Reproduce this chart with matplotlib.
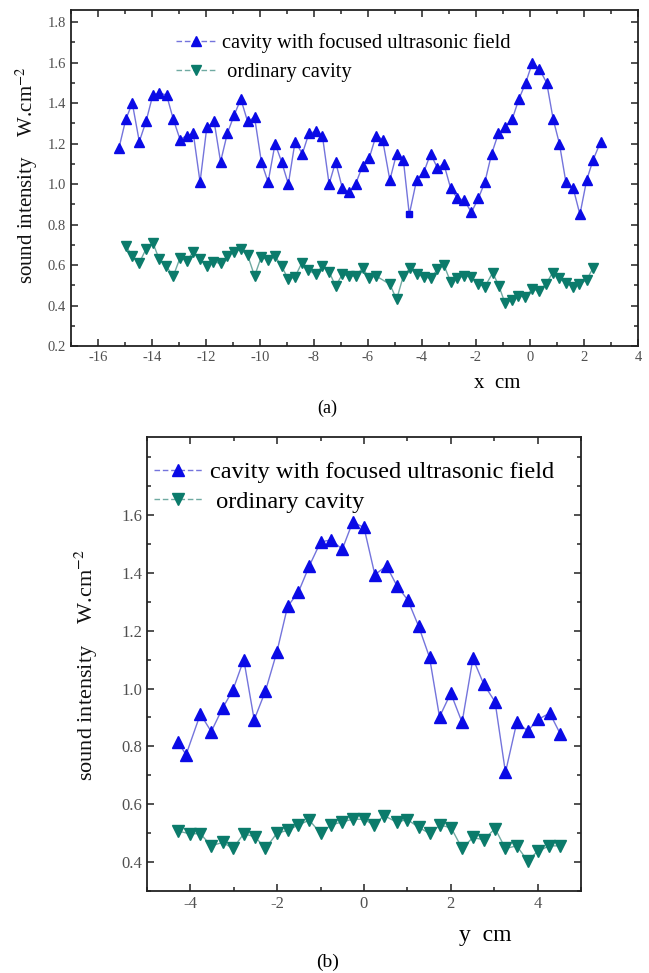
import matplotlib
matplotlib.use("Agg")
import matplotlib.pyplot as plt
from matplotlib.lines import Line2D
from matplotlib.ticker import MultipleLocator

plt.rcParams['font.family'] = ['Liberation Serif', 'DejaVu Serif']
plt.rcParams['mathtext.fontset'] = 'stix'
plt.rcParams['axes.unicode_minus'] = False

# ---- (a) data: scan along x ----
xa_focus = [-15.22, -14.97, -14.73, -14.47, -14.22, -13.97, -13.73, -13.46, -13.21, -12.96,
            -12.71, -12.47, -12.22, -11.97, -11.70, -11.46, -11.21, -10.96, -10.71, -10.46,
            -10.20, -9.95, -9.70, -9.44, -9.20, -8.95, -8.70, -8.43, -8.19, -7.94,
            -7.69, -7.44, -7.20, -6.95, -6.70, -6.46, -6.20, -5.95, -5.70, -5.46,
            -5.19, -4.94, -4.69, -4.47, -4.20, -3.93, -3.68, -3.43, -3.19, -2.94,
            -2.69, -2.43, -2.17, -1.91, -1.67, -1.42, -1.17, -0.93, -0.66, -0.41,
            -0.16, 0.09, 0.34, 0.62, 0.86, 1.09, 1.33, 1.60, 1.85, 2.10,
            2.34, 2.62]
ya_focus = [1.18, 1.32, 1.40, 1.21, 1.31, 1.44, 1.45, 1.44, 1.32, 1.22,
            1.24, 1.25, 1.01, 1.28, 1.31, 1.11, 1.25, 1.34, 1.42, 1.31,
            1.33, 1.11, 1.01, 1.20, 1.11, 1.00, 1.21, 1.15, 1.25, 1.26,
            1.24, 1.00, 1.11, 0.98, 0.96, 1.00, 1.09, 1.13, 1.24, 1.22,
            1.02, 1.15, 1.12, 0.85, 1.02, 1.06, 1.15, 1.08, 1.10, 0.98,
            0.93, 0.92, 0.86, 0.93, 1.01, 1.15, 1.25, 1.28, 1.32, 1.42,
            1.50, 1.60, 1.57, 1.50, 1.32, 1.20, 1.01, 0.98, 0.85, 1.02,
            1.12, 1.21]
square_index_a = 43  # one point drawn with a square symbol in the original

xa_ord = [-14.97, -14.73, -14.48, -14.23, -13.96, -13.73, -13.48, -13.21, -12.96, -12.71,
          -12.47, -12.22, -11.97, -11.73, -11.46, -11.21, -10.96, -10.71, -10.46, -10.20,
          -9.95, -9.70, -9.44, -9.20, -8.95, -8.70, -8.46, -8.21, -7.94, -7.69,
          -7.44, -7.20, -6.95, -6.70, -6.46, -6.20, -5.95, -5.70, -5.19, -4.94,
          -4.69, -4.44, -4.20, -3.93, -3.68, -3.43, -3.19, -2.94, -2.69, -2.43,
          -2.17, -1.91, -1.67, -1.38, -1.15, -0.93, -0.68, -0.43, -0.19, 0.09,
          0.34, 0.59, 0.84, 1.09, 1.33, 1.58, 1.83, 2.10, 2.34]
ya_ord = [0.695, 0.644, 0.608, 0.677, 0.707, 0.628, 0.595, 0.546, 0.636, 0.620,
          0.666, 0.628, 0.595, 0.616, 0.608, 0.644, 0.666, 0.677, 0.649, 0.546,
          0.641, 0.625, 0.644, 0.595, 0.529, 0.542, 0.608, 0.575, 0.554, 0.595,
          0.567, 0.496, 0.554, 0.546, 0.546, 0.584, 0.537, 0.546, 0.505, 0.430,
          0.546, 0.584, 0.556, 0.542, 0.534, 0.579, 0.600, 0.518, 0.537, 0.546,
          0.542, 0.506, 0.493, 0.562, 0.496, 0.414, 0.427, 0.447, 0.443, 0.480,
          0.473, 0.506, 0.562, 0.534, 0.513, 0.493, 0.506, 0.526, 0.587]

# ---- (b) data: scan along y ----
xb_focus = [-4.28, -4.10, -3.77, -3.52, -3.26, -3.02, -2.77, -2.53, -2.27, -2.01,
            -1.76, -1.51, -1.26, -1.00, -0.76, -0.50, -0.26, 0.00, 0.25, 0.52,
            0.76, 1.01, 1.26, 1.51, 1.74, 2.00, 2.26, 2.51, 2.76, 3.02,
            3.26, 3.52, 3.77, 4.02, 4.28, 4.52]
yb_focus = [0.814, 0.771, 0.912, 0.851, 0.932, 0.995, 1.100, 0.892, 0.992, 1.125,
            1.284, 1.334, 1.424, 1.507, 1.514, 1.482, 1.576, 1.557, 1.394, 1.424,
            1.355, 1.306, 1.215, 1.108, 0.902, 0.984, 0.883, 1.104, 1.015, 0.954,
            0.710, 0.883, 0.854, 0.894, 0.915, 0.844]

xb_ord = [-4.28, -4.02, -3.77, -3.52, -3.26, -3.02, -2.77, -2.51, -2.27, -2.01,
          -1.76, -1.51, -1.26, -1.00, -0.76, -0.50, -0.26, 0.00, 0.23, 0.46,
          0.75, 1.00, 1.26, 1.51, 1.76, 2.01, 2.26, 2.51, 2.76, 3.02,
          3.26, 3.52, 3.77, 4.00, 4.27, 4.52]
yb_ord = [0.507, 0.498, 0.498, 0.456, 0.468, 0.447, 0.498, 0.487, 0.447, 0.499,
          0.510, 0.528, 0.545, 0.499, 0.528, 0.539, 0.548, 0.548, 0.527, 0.561,
          0.538, 0.547, 0.520, 0.499, 0.528, 0.518, 0.447, 0.485, 0.477, 0.516,
          0.447, 0.456, 0.404, 0.437, 0.456, 0.456]

label_focus = "cavity with focused ultrasonic field"
label_ord = "ordinary cavity"

BLUE_M = "#0a0ae6"
BLUE_L = "#7474dc"
GREEN_M = "#0b7b6b"
GREEN_L = "#70aaa2"
TICK_C = "#505050"

fig = plt.figure(figsize=(6.49, 9.73), dpi=100)

def style_axes(ax, fs):
    for s in ax.spines.values():
        s.set_linewidth(1.3)
        s.set_color("#222222")
    ax.tick_params(which='both', direction='in', top=True, right=True,
                   labelsize=fs, labelcolor=TICK_C, color="#222222", width=1.1)
    ax.tick_params(which='major', length=5)
    ax.tick_params(which='minor', length=3)

def legend_handles(ms):
    h1 = Line2D([], [], color=BLUE_L, lw=1.0, ls=(0, (4, 2)), marker='^',
                markersize=ms, markerfacecolor=BLUE_M, markeredgecolor=BLUE_M)
    h2 = Line2D([], [], color=GREEN_L, lw=1.0, ls=(0, (4, 2)), marker='v',
                markersize=ms, markerfacecolor=GREEN_M, markeredgecolor=GREEN_M)
    return [h1, h2]

# ---------- (a) ----------
ax1 = fig.add_axes([0.1094, 0.6444, 0.8736, 0.3453])
ax1.plot(xa_focus, ya_focus, color=BLUE_L, lw=1.0, zorder=2)
xs = [x for i, x in enumerate(xa_focus) if i != square_index_a]
ys = [y for i, y in enumerate(ya_focus) if i != square_index_a]
ax1.plot(xs, ys, ls='none', marker='^', ms=7.5, color=BLUE_M, zorder=3)
ax1.plot([xa_focus[square_index_a]], [ya_focus[square_index_a]], ls='none',
         marker='s', ms=5, color=BLUE_M, zorder=3)
ax1.plot(xa_ord, ya_ord, color=GREEN_L, lw=1.0, zorder=2)
ax1.plot(xa_ord, ya_ord, ls='none', marker='v', ms=7.5, color=GREEN_M, zorder=3)
ax1.set_xlim(-17, 4)
ax1.set_ylim(0.2, 1.86)
ax1.xaxis.set_major_locator(MultipleLocator(2))
ax1.xaxis.set_minor_locator(MultipleLocator(1))
ax1.yaxis.set_major_locator(MultipleLocator(0.2))
ax1.yaxis.set_minor_locator(MultipleLocator(0.1))
ax1.yaxis.set_major_formatter(plt.FuncFormatter(lambda v, p: f"{v:.1f}"))
style_axes(ax1, 10.5)
ax1.legend(legend_handles(7), [label_focus, " " + label_ord], loc='upper left',
           bbox_to_anchor=(0.152, 0.985), frameon=False, fontsize=14.8,
           handlelength=2.0, handletextpad=0.25, labelspacing=0.45)
fig.text(27 / 649, 1 - 175 / 973, "sound intensity    W.cm$^{-2}$", rotation=90,
         ha='center', va='center', fontsize=15, color="#111111")
fig.text(497 / 649, 1 - 384 / 973, "x  cm", ha='center', va='center', fontsize=15)
fig.text(327 / 649, 1 - 408 / 973, "(a)", ha='center', va='center', fontsize=13)

# ---------- (b) ----------
ax2 = fig.add_axes([0.2265, 0.0843, 0.6687, 0.4666])
ax2.plot(xb_focus, yb_focus, color=BLUE_L, lw=1.0, zorder=2)
ax2.plot(xb_focus, yb_focus, ls='none', marker='^', ms=8.5, color=BLUE_M, zorder=3)
ax2.plot(xb_ord, yb_ord, color=GREEN_L, lw=1.0, zorder=2)
ax2.plot(xb_ord, yb_ord, ls='none', marker='v', ms=8.5, color=GREEN_M, zorder=3)
ax2.set_xlim(-5, 5)
ax2.set_ylim(0.3, 1.87)
ax2.xaxis.set_major_locator(MultipleLocator(2))
ax2.xaxis.set_minor_locator(MultipleLocator(1))
ax2.yaxis.set_minor_locator(MultipleLocator(0.1))
ax2.set_yticks([0.4, 0.6, 0.8, 1.0, 1.2, 1.4, 1.6])
ax2.yaxis.set_major_formatter(plt.FuncFormatter(lambda v, p: f"{v:.1f}"))
style_axes(ax2, 12)
ax2.legend(legend_handles(8), [label_focus, " " + label_ord], loc='upper left',
           bbox_to_anchor=(-0.035, 0.995), frameon=False, fontsize=17.6,
           handlelength=2.0, handletextpad=0.3, labelspacing=0.3)
fig.text(86 / 649, 1 - 665 / 973, "sound intensity    W.cm$^{-2}$", rotation=90,
         ha='center', va='center', fontsize=16, color="#111111")
fig.text(485 / 649, 1 - 935 / 973, "y  cm", ha='center', va='center', fontsize=17)
fig.text(328 / 649, 1 - 962 / 973, "(b)", ha='center', va='center', fontsize=14)

fig.savefig("out.png", dpi=100)
